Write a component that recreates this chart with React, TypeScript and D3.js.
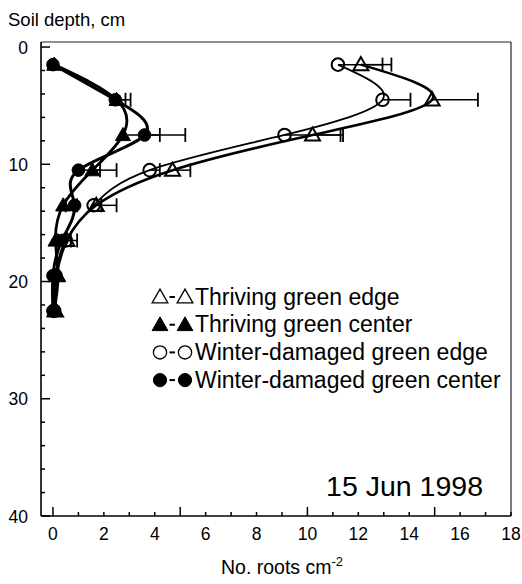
import React from "react";
import * as d3 from "d3";

const depths = [1.5, 4.5, 7.5, 10.5, 13.5, 16.5, 19.5, 22.5];

const thrivingEdge = [12.1, 14.9, 10.2, 4.7, 1.7, 0.55, 0.15, 0.1];
const thrivingEdgeErr = [1.2, 1.8, 1.2, 0.7, 0.8, 0.4, 0, 0];

const thrivingCenter = [0.05, 2.5, 2.75, 1.55, 0.4, 0.1, 0.2, 0.05];
const thrivingCenterErr = [0, 0.55, 1.45, 0.95, 0.1, 0.1, 0, 0];

const winterEdge = [11.2, 12.95, 9.1, 3.8, 1.6, 0.5, 0.1, 0.05];
const winterEdgeErr = [1.75, 1.1, 2.2, 0.4, 0.3, 0.2, 0, 0];

const winterCenter = [0.0, 2.45, 3.6, 1.0, 0.85, 0.35, 0.0, 0.0];
const winterCenterErr = [0, 0.4, 1.6, 0.85, 0.1, 0.1, 0, 0];

const xTickLabels = [0, 2, 4, 6, 8, 10, 12, 14, 16, 18];
const yTickLabels = [0, 10, 20, 30, 40];

const legendLabels = [
  "Thriving green edge",
  "Thriving green center",
  "Winter-damaged green edge",
  "Winter-damaged green center",
];

type Series = {
  values: number[];
  err: number[];
  shape: "tri" | "circ";
  filled: boolean;
  width: number;
};

const series: Series[] = [
  { values: thrivingEdge, err: thrivingEdgeErr, shape: "tri", filled: false, width: 2.6 },
  { values: winterEdge, err: winterEdgeErr, shape: "circ", filled: false, width: 1.8 },
  { values: thrivingCenter, err: thrivingCenterErr, shape: "tri", filled: true, width: 2.8 },
  { values: winterCenter, err: winterCenterErr, shape: "circ", filled: true, width: 3 },
];

const W = 522;
const H = 584;
const FONT = "'Liberation Sans', Arial, Helvetica, sans-serif";

function Marker({ x, y, shape, filled, size = 1, sw = 2 }: { x: number; y: number; shape: string; filled: boolean; size?: number; sw?: number }) {
  if (shape === "circ") {
    return (
      <circle
        cx={x}
        cy={y}
        r={6.3 * size}
        fill={filled ? "#000" : "none"}
        stroke="#000"
        strokeWidth={filled ? 1 : sw}
      />
    );
  }
  const s = 7.5 * size;
  const p = `M${x},${y - s}L${x + s},${y + s * 0.75}L${x - s},${y + s * 0.75}Z`;
  return <path d={p} fill={filled ? "#000" : "none"} stroke="#000" strokeWidth={filled ? 1 : sw} strokeLinejoin="miter" />;
}

export default function App() {
  const x = d3.scaleLinear().domain([-0.47, 18]).range([41, 511]);
  const y = d3.scaleLinear().domain([-0.43, 40]).range([42, 516]);
  const left = x.range()[0];
  const right = x.range()[1];
  const top = y.range()[0];
  const bottom = y.range()[1];

  const line = d3
    .line<[number, number]>()
    .x((d) => x(d[0]))
    .y((d) => y(d[1]))
    .curve(d3.curveNatural);

  const xMinor = d3.range(0, 19, 1);
  const yMinor = d3.range(0, 41, 2);

  const legX = 152;
  const legY0 = 297;
  const legDy = 27.7;

  return (
    <svg
      width={W}
      height={H}
      style={{ position: "absolute", left: 0, top: 0, background: "#fff" }}
      fontFamily={FONT}
    >
      <rect x={0} y={0} width={W} height={H} fill="#fff" />
      {/* frame */}
      <line x1={left} x2={right} y1={top} y2={top} stroke="#222" strokeWidth={1.2} />
      <line x1={right} x2={right} y1={top} y2={bottom} stroke="#222" strokeWidth={1.2} />
      <line x1={left} x2={left} y1={top} y2={bottom} stroke="#000" strokeWidth={1.6} />
      <line x1={left} x2={right} y1={bottom} y2={bottom} stroke="#000" strokeWidth={1.6} />

      {/* x ticks */}
      {xMinor.map((v) => (
        <line
          key={"xt" + v}
          x1={x(v)}
          x2={x(v)}
          y1={bottom}
          y2={bottom - (v % 5 === 0 ? 9 : 4)}
          stroke="#000"
          strokeWidth={1.5}
        />
      ))}
      {xTickLabels.map((v) => (
        <text key={"xl" + v} x={x(v)} y={540} textAnchor="middle" fontSize={17.5}>
          {v}
        </text>
      ))}

      {/* y ticks */}
      {yMinor.map((v) => (
        <line
          key={"yt" + v}
          x1={left}
          x2={left + (v % 10 === 0 ? 9 : 4)}
          y1={y(v)}
          y2={y(v)}
          stroke="#000"
          strokeWidth={1.5}
        />
      ))}
      {yTickLabels.map((v) => (
        <text key={"yl" + v} x={28} y={y(v) + 6.5} textAnchor="end" fontSize={17.5}>
          {v}
        </text>
      ))}

      <text x={8} y={26} fontSize={18.5}>
        Soil depth, cm
      </text>
      <text x={282} y={574} textAnchor="middle" fontSize={19.5}>
        No. roots cm
        <tspan dy={-8} fontSize={13}>
          -2
        </tspan>
      </text>

      {/* curves */}
      {series.map((s, i) => (
        <path
          key={"c" + i}
          d={line(s.values.map((v, j) => [v, depths[j]] as [number, number])) || ""}
          fill="none"
          stroke="#000"
          strokeWidth={s.width}
        />
      ))}

      {/* error bars */}
      {series.map((s, i) =>
        s.values.map((v, j) =>
          s.err[j] > 0 ? (
            <g key={"e" + i + "-" + j}>
              <line x1={x(v)} x2={x(v + s.err[j])} y1={y(depths[j])} y2={y(depths[j])} stroke="#000" strokeWidth={1.5} />
              <line
                x1={x(v + s.err[j])}
                x2={x(v + s.err[j])}
                y1={y(depths[j]) - 7}
                y2={y(depths[j]) + 7}
                stroke="#000"
                strokeWidth={1.8}
              />
            </g>
          ) : null
        )
      )}

      {/* markers */}
      {series.map((s, i) =>
        s.values.map((v, j) => (
          <Marker key={"m" + i + "-" + j} x={x(v)} y={y(depths[j])} shape={s.shape} filled={s.filled} />
        ))
      )}

      {/* legend */}
      {legendLabels.map((lab, i) => {
        const shape = i < 2 ? "tri" : "circ";
        const filled = i % 2 === 1;
        const cy = legY0 + i * legDy;
        return (
          <g key={"lg" + i}>
            <Marker x={legX + 8} y={cy} shape={shape} filled={filled} size={1.05} sw={1.3} />
            <line x1={legX + 17.5} x2={legX + 23} y1={cy} y2={cy} stroke="#000" strokeWidth={2} />
            <Marker x={legX + 33} y={cy} shape={shape} filled={filled} size={1.05} sw={1.3} />
            <text x={legX + 43} y={cy + 7.5} fontSize={23}>
              {lab}
            </text>
          </g>
        );
      })}

      <text x={483} y={496} textAnchor="end" fontSize={28.5}>
        15 Jun 1998
      </text>
    </svg>
  );
}
